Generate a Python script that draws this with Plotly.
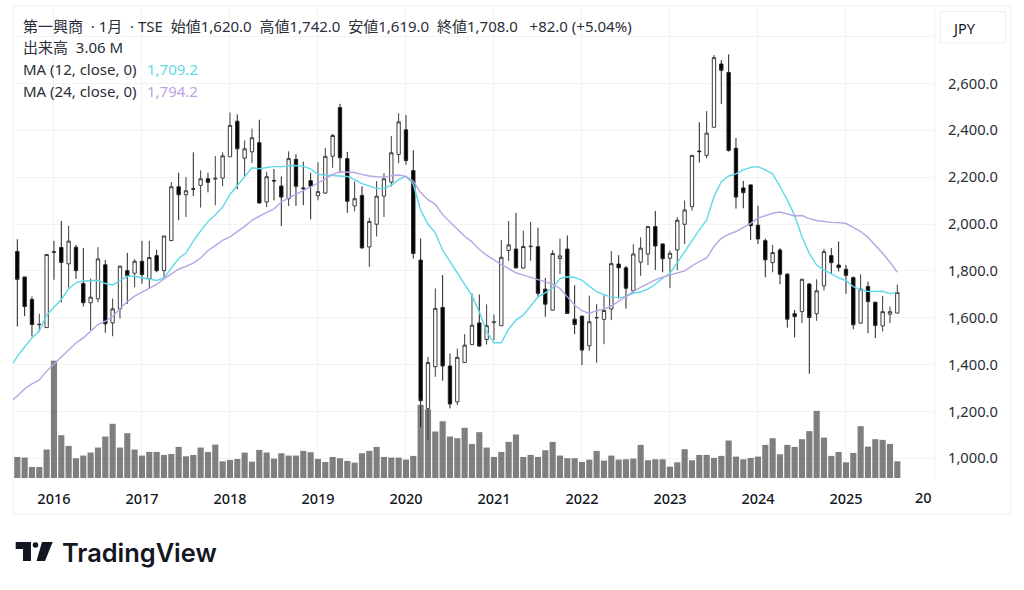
import plotly.graph_objects as go

# monthly bars, 2015-08 .. 2025-08
opens = [1883, 1774, 1678, 1570, 1558, 1881, 1900, 1830, 1901, 1746, 1664, 1681, 1826, 1578, 1638, 1801, 1790, 1841, 1766, 1865,
         1801, 1929, 2159, 2125, 2150, 2165, 2193, 2192, 2196, 2287, 2439, 2281, 2308, 2347, 2094, 2186, 2162, 2108, 2276, 2154,
         2185, 2121, 2132, 2289, 2497, 2279, 2077, 2122, 1902, 1999, 2119, 2179, 2297, 2402, 2228, 1846, 1213, 1391, 1644, 1394,
         1241, 1409, 1486, 1578, 1507, 1580, 1566, 1887, 1893, 1812, 1903, 1903, 1722, 1632, 1853, 1893, 1594, 1607, 1480, 1599,
         1593, 1637, 1829, 1813, 1715, 1837, 1872, 1989, 1915, 1854, 1889, 1999, 2074, 2311, 2293, 2413, 2683, 2647, 2323, 2154,
         2167, 1995, 1929, 1835, 1889, 1786, 1617, 1626, 1744, 1617, 1736, 1865, 1825, 1807, 1771, 1577, 1733, 1666, 1565, 1615, 1620]
highs = [1935, 1774, 1691, 1617, 1870, 1928, 2013, 1992, 1911, 1898, 1767, 1901, 1847, 1682, 1823, 1877, 1850, 1928, 1928, 1890,
         1949, 2179, 2219, 2200, 2306, 2229, 2219, 2290, 2306, 2476, 2468, 2357, 2407, 2445, 2222, 2235, 2203, 2310, 2298, 2266,
         2219, 2264, 2325, 2385, 2513, 2308, 2182, 2161, 2027, 2183, 2217, 2375, 2473, 2465, 2315, 1938, 1433, 1725, 1782, 1448,
         1469, 1530, 1703, 1699, 1657, 1614, 1931, 2013, 2047, 1971, 2009, 1984, 1770, 1888, 1938, 1951, 1739, 1607, 1694, 1658,
         1696, 1884, 1867, 1821, 1914, 1943, 1992, 2056, 1915, 1887, 2029, 2100, 2295, 2434, 2482, 2721, 2700, 2724, 2367, 2184,
         2167, 2078, 1938, 1911, 1897, 1790, 1634, 1767, 1747, 1764, 1894, 1897, 1925, 1825, 1776, 1785, 1754, 1669, 1693, 1648, 1742]
lows = [1563, 1607, 1520, 1541, 1558, 1762, 1666, 1729, 1766, 1648, 1546, 1666, 1536, 1521, 1597, 1659, 1730, 1745, 1723, 1794,
        1773, 1929, 2016, 2030, 2119, 2070, 2135, 2080, 2161, 2287, 2149, 2203, 2260, 2087, 2072, 2101, 1991, 2077, 2077, 2080,
        2020, 2101, 2129, 2240, 2217, 2048, 2054, 1895, 1817, 1947, 2030, 2160, 2260, 2253, 1853, 1132, 1078, 1348, 1331, 1213,
        1227, 1409, 1484, 1476, 1486, 1504, 1566, 1843, 1810, 1810, 1843, 1689, 1604, 1632, 1786, 1618, 1530, 1398, 1459, 1408,
        1487, 1590, 1682, 1639, 1705, 1779, 1825, 1804, 1794, 1726, 1804, 1915, 2057, 2262, 2280, 2413, 2512, 2309, 2066, 2067,
        1932, 1915, 1773, 1794, 1743, 1558, 1516, 1577, 1361, 1587, 1716, 1786, 1797, 1702, 1551, 1575, 1534, 1513, 1541, 1577, 1619]
closes = [1764, 1648, 1571, 1572, 1870, 1880, 1836, 1927, 1801, 1664, 1688, 1851, 1574, 1638, 1820, 1779, 1841, 1784, 1857, 1801,
          1949, 2159, 2125, 2142, 2149, 2193, 2178, 2195, 2291, 2421, 2321, 2321, 2368, 2090, 2202, 2184, 2115, 2279, 2161, 2151,
          2161, 2138, 2289, 2378, 2283, 2097, 2108, 1898, 2011, 2119, 2193, 2304, 2436, 2271, 1874, 1246, 1409, 1640, 1394, 1232,
          1431, 1483, 1568, 1479, 1566, 1582, 1858, 1911, 1813, 1904, 1905, 1704, 1658, 1874, 1864, 1618, 1571, 1462, 1583, 1601,
          1631, 1831, 1813, 1726, 1872, 1897, 1989, 1906, 1852, 1875, 2016, 2060, 2293, 2309, 2388, 2710, 2656, 2314, 2115, 2134,
          1993, 1936, 1847, 1878, 1786, 1594, 1605, 1764, 1601, 1715, 1882, 1835, 1814, 1781, 1570, 1722, 1669, 1567, 1626, 1626, 1708]
# millions of shares
volume = [3.86, 3.74, 2.02, 2.02, 5.21, 21.5, 7.85, 5.88, 3.62, 4.11, 4.66, 5.58, 7.6, 9.93, 5.58, 8.21, 5.21, 4.11, 4.78, 4.78,
          4.23, 4.41, 5.7, 3.98, 4.23, 5.58, 4.78, 6.13, 3.06, 3.31, 3.49, 4.66, 3.0, 5.15, 4.66, 3.56, 4.54, 4.11, 4.11, 4.97,
          4.72, 3.49, 2.94, 3.86, 3.62, 3.13, 2.82, 4.54, 4.97, 5.7, 3.86, 3.74, 3.74, 3.37, 4.05, 13.4, 12.6, 8.52, 10.4, 7.6,
          7.29, 9.2, 6.25, 8.4, 5.58, 3.86, 4.78, 6.62, 7.97, 3.86, 4.23, 3.86, 5.09, 6.62, 4.11, 3.62, 3.62, 2.94, 3.37, 4.97,
          3.19, 4.11, 3.37, 3.43, 3.56, 6.07, 3.25, 3.43, 3.43, 2.08, 2.88, 5.27, 3.25, 4.23, 4.23, 3.68, 4.05, 6.87, 3.92, 3.43,
          3.68, 3.92, 6.07, 7.29, 4.35, 6.07, 5.7, 7.11, 8.58, 12.3, 7.42, 4.05, 4.78, 2.88, 4.6, 9.5, 5.76, 7.11, 6.99, 6.25, 3.06]
# the averages start one month left of the first visible bar
ma12 = [1385, 1435, 1475, 1514, 1543, 1610, 1645, 1678, 1723, 1750, 1757, 1759, 1760, 1746, 1740, 1759, 1777, 1777, 1772, 1766, 1759,
        1770, 1809, 1853, 1876, 1927, 1971, 2010, 2040, 2072, 2126, 2165, 2200, 2240, 2236, 2242, 2246, 2244, 2249, 2250, 2246,
        2235, 2212, 2209, 2208, 2205, 2203, 2189, 2172, 2163, 2151, 2153, 2165, 2189, 2203, 2170, 2059, 2000, 1962, 1888, 1839,
        1789, 1742, 1694, 1625, 1540, 1493, 1493, 1551, 1590, 1611, 1651, 1689, 1706, 1728, 1767, 1775, 1772, 1760, 1735, 1711,
        1698, 1689, 1685, 1690, 1705, 1710, 1722, 1743, 1769, 1790, 1835, 1882, 1932, 1975, 2017, 2117, 2181, 2205, 2214, 2231,
        2242, 2245, 2231, 2214, 2160, 2103, 2036, 1946, 1875, 1825, 1804, 1786, 1770, 1759, 1733, 1719, 1712, 1712, 1713, 1703, 1709.2]
ma24 = [1240, 1266, 1297, 1318, 1335, 1372, 1403, 1432, 1465, 1492, 1514, 1541, 1571, 1585, 1605, 1638, 1669, 1692, 1709, 1723, 1742,
        1766, 1787, 1807, 1819, 1833, 1855, 1887, 1908, 1930, 1945, 1966, 1990, 2016, 2034, 2050, 2065, 2094, 2111, 2126, 2142,
        2158, 2175, 2193, 2212, 2223, 2223, 2220, 2212, 2205, 2202, 2200, 2206, 2209, 2203, 2183, 2134, 2104, 2084, 2040, 2009,
        1978, 1948, 1924, 1891, 1867, 1846, 1827, 1810, 1792, 1782, 1773, 1765, 1753, 1743, 1725, 1689, 1654, 1630, 1618, 1630,
        1637, 1650, 1671, 1689, 1712, 1730, 1747, 1762, 1773, 1783, 1790, 1800, 1821, 1840, 1855, 1904, 1939, 1956, 1968, 1985,
        2003, 2025, 2037, 2046, 2051, 2043, 2034, 2036, 2023, 2015, 2010, 2007, 2006, 2002, 1986, 1968, 1943, 1911, 1875, 1837, 1794.2]

year_pos = [5, 17, 29, 41, 53, 65, 77, 89, 101, 113]
year_labels = ["2016", "2017", "2018", "2019", "2020", "2021", "2022", "2023", "2024", "2025"]
price_ticks = [1000, 1200, 1400, 1600, 1800, 2000, 2200, 2400, 2600, 2800]
price_labels = ["1,000.0", "1,200.0", "1,400.0", "1,600.0", "1,800.0", "2,000.0", "2,200.0", "2,400.0", "2,600.0", ""]

W, H = 1024, 590
L, R, T, B = 13, 935, 6, 478
FONT = "Noto Sans, Noto Sans CJK JP, sans-serif"
INK = "#2a2e39"
GRID = "#f3f3f4"
CYAN = "#5fd9e8"
PURPLE = "#b9a4e4"
pos = list(range(len(opens)))
ma_pos = list(range(-1, len(opens)))


def px(x):
    return (x - L) / (R - L)


def py(y):
    return (B - y) / (B - T)


def note(x, y, text, color=INK, size=15, **kw):
    return dict(xref="paper", yref="paper", x=px(x), y=py(y), text=text, showarrow=False,
                xanchor=kw.pop("xanchor", "left"), yanchor="middle",
                font=dict(family=kw.pop("family", FONT), size=size, color=color, **kw))


def box(x0, y0, x1, y1, **kw):
    return dict(type="rect", xref="paper", yref="paper", x0=px(x0), y0=py(y0), x1=px(x1), y1=py(y1), **kw)


fig = go.Figure()
fig.add_bar(x=pos, y=volume, yaxis="y", marker=dict(color="rgba(0,0,0,0.5)", line_width=0), width=0.84)
fig.add_candlestick(x=pos, open=opens, high=highs, low=lows, close=closes, yaxis="y2",
                    increasing=dict(fillcolor="#ffffff", line=dict(color="#3c3c3c", width=1)),
                    decreasing=dict(fillcolor="#000000", line=dict(color="#222222", width=1)),
                    whiskerwidth=0)
fig.add_scatter(x=ma_pos, y=ma12, yaxis="y2", mode="lines", line=dict(color=CYAN, width=1.4))
fig.add_scatter(x=ma_pos, y=ma24, yaxis="y2", mode="lines", line=dict(color=PURPLE, width=1.4))

header = ("第一興商&nbsp;&nbsp;·&nbsp;1月&nbsp;&nbsp;·&nbsp;TSE&nbsp;&nbsp;始値1,620.0&nbsp;&nbsp;高値1,742.0"
          "&nbsp;&nbsp;安値1,619.0&nbsp;&nbsp;終値1,708.0&nbsp;&nbsp;&nbsp;+82.0 (+5.04%)")
annotations = [
    note(21, 26, header),
    note(21, 47, "出来高&nbsp;&nbsp;3.06 M"),
    note(21, 69, "MA (12, close, 0)"),
    note(145, 69, "1,709.2", color=CYAN),
    note(21, 91, "MA (24, close, 0)"),
    note(145, 91, "1,794.2", color=PURPLE),
    note(934, 497, "20", xanchor="right", color="#131722", size=14.5, weight=500),
    note(950, 28, "JPY", color="#131722", size=14.5),
    note(59.5, 552, "TradingView", color="#131722", size=25.4, family="Inter, sans-serif", weight=600),
]
shapes = [
    box(13, 6, 1011, 514, line=dict(color="#f0f0f2", width=1), layer="below"),
    dict(type="line", xref="paper", yref="paper", x0=1, x1=1, y0=0, y1=1, line=dict(color="#f0f0f2", width=1)),
    box(940.5, 11.5, 1005.5, 43, line=dict(color="#eeeef0", width=1), fillcolor="#ffffff"),
    # logo
    dict(type="path", xref="paper", yref="paper", fillcolor="#131722", line_width=0,
         path="M {} {} L {} {} L {} {} L {} {} L {} {} L {} {} Z".format(
             px(15.7), py(542), px(31), py(542), px(31), py(561),
             px(23), py(561), px(23), py(549), px(15.7), py(549))),
    dict(type="path", xref="paper", yref="paper", fillcolor="#131722", line_width=0,
         path="M {} {} L {} {} L {} {} L {} {} Z".format(
             px(42), py(542), px(52.7), py(542), px(45), py(561), px(36.5), py(561))),
    dict(type="circle", xref="paper", yref="paper", fillcolor="#131722", line_width=0,
         x0=px(32.7), x1=px(38.3), y0=py(547.8), y1=py(542.2)),
]

fig.update_layout(
    width=W, height=H, autosize=False, showlegend=False,
    margin=dict(l=L, r=W - R, t=T, b=H - B, pad=0),
    paper_bgcolor="#ffffff", plot_bgcolor="#ffffff",
    font=dict(family=FONT, color="#131722", size=14),
    boxgap=0.35,
    hovermode=False,
    xaxis=dict(range=[-0.586, 125.14], tickvals=year_pos, ticktext=year_labels, showgrid=True, gridcolor=GRID,
               gridwidth=1, zeroline=False, showline=False, ticks="", rangeslider=dict(visible=False),
               ticklabelstandoff=10, tickfont=dict(size=14.5, color="#131722", weight=500)),
    yaxis=dict(range=[0, 86.5], visible=False, fixedrange=True),
    yaxis2=dict(range=[916, 2930.5], overlaying="y", side="right", tickvals=price_ticks, ticktext=price_labels,
                showgrid=True, gridcolor=GRID, gridwidth=1, zeroline=False, showline=False, ticks="",
                ticklabelstandoff=12, tickfont=dict(size=14.7, color="#2a2e39")),
    annotations=annotations, shapes=shapes,
)

fig.write_html("out.html", config=dict(displayModeBar=False), post_script="document.body.style.margin='0';")
